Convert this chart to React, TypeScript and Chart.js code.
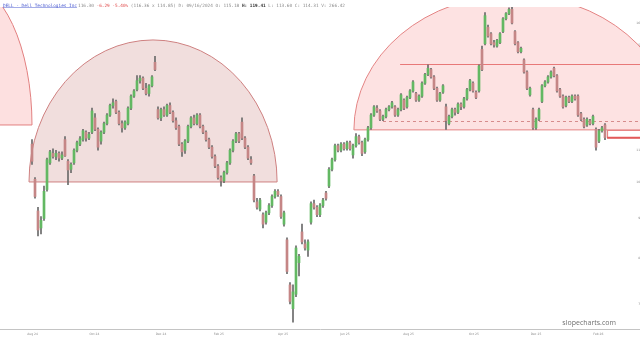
import React, { useEffect, useRef } from 'react';
import { Chart, registerables } from 'chart.js';

Chart.register(...registerables);

// ---- Data (daily-ish candles) ----
const opens = [
  112, 101, 92, 87.5, 90, 98, 106, 109, 108, 109, 107.5, 113.5,
  106.5, 104, 106, 110, 112, 113.5, 116, 114, 116, 121, 117, 113,
  116, 119, 122, 125.5, 127, 123, 119, 117.5, 119, 124.5, 129, 131.5,
  135, 136, 132, 130, 133, 142.5, 124, 121, 124, 122, 125.5, 123,
  120, 118, 112, 110, 113, 118, 121, 119, 122, 118, 116, 113.5,
  111, 108, 105, 101.5, 100.5, 103, 106, 110, 113, 115.5, 119.5, 114,
  111, 107, 102, 94.5, 92.5, 91, 89, 91.5, 93.5, 96, 97.5, 96,
  88.5, 84.5, 74, 69, 72, 79, 86.5, 83.5, 82, 89, 94, 93,
  91, 93.5, 97, 99, 104, 107, 111.5, 110, 112, 110.5, 112.5, 108.5,
  111.5, 114.5, 112.5, 109.5, 113.5, 117.5, 122, 124.5, 123.5, 120.5, 121.5, 124,
  125, 125, 122, 124, 127.5, 125, 128.5, 131, 130, 127.5, 129, 134,
  137.5, 139.5, 136.5, 132, 127.5, 130.5, 125, 119, 121.5, 124, 123, 126,
  125, 128, 131.5, 134, 130.5, 131, 148, 150.5, 158, 155, 151, 149.5,
  151, 156, 162, 164.5, 166.5, 156, 151, 147, 143.5, 138.5, 129.5, 124,
  117.5, 120.5, 127, 133, 134.5, 136.5, 140, 137, 131.5, 129, 125.5, 128.5,
  127, 129, 129, 122.5, 120.5, 118.5, 120, 119, 117, 113, 116.5, 118.5,
];
const highs = [
  113.5, 101.5, 93, 90.5, 99, 107.5, 110, 110.5, 110, 109.5, 109.5, 114.5,
  107, 106, 110.5, 113, 114.5, 117, 116.5, 116, 124.5, 122.5, 117.5, 116.5,
  119.5, 122.5, 126, 128, 127.5, 123.5, 120, 120, 125, 129.5, 131.5, 137,
  137, 136.5, 134, 133.5, 137, 145, 125, 124.5, 125, 126, 126.5, 123.5,
  121, 118.5, 112.5, 113.5, 118.5, 121.5, 122, 122.5, 122.5, 118.5, 116.5, 114,
  111.5, 108.5, 105.5, 102, 103.5, 106.5, 110.5, 113.5, 116, 116, 121, 114.5,
  111.5, 108, 102.5, 95.5, 95.5, 91.5, 92, 94, 96.5, 98, 98, 96.5,
  92, 85, 74.5, 74, 83, 81, 88.5, 84.5, 84.5, 94.5, 95, 93.5,
  94, 95.5, 97.5, 104.5, 107.5, 112, 112, 112.5, 112.5, 113, 113, 112,
  115.5, 115, 113, 114, 118, 122.5, 125.5, 125.5, 124, 122, 124.5, 125.5,
  127, 125.5, 124.5, 130, 128, 129, 131.5, 135, 130.5, 129.5, 134.5, 138,
  141.5, 140, 137, 132.5, 130.5, 133.5, 126, 122, 124.5, 124.5, 126.5, 126.5,
  128.5, 132, 135.5, 134.5, 131, 141.5, 149.5, 165, 159, 155.5, 152, 152.5,
  155.5, 162.5, 165, 167.3, 167.7, 156.5, 151.5, 149, 144, 139, 132.5, 124.5,
  121, 124.5, 133.5, 135, 137, 139, 140.5, 137.5, 132, 129.5, 129, 129,
  129.5, 129.5, 129.5, 123, 121, 121, 120.5, 122, 117.5, 117, 118, 119,
];
const lows = [
  105.5, 95.5, 85.5, 86, 89.5, 97.5, 105.5, 107.5, 107, 106.5, 107, 108,
  99.4, 103, 105.5, 109.5, 111.5, 113, 113, 113.5, 115.5, 116.5, 110, 112,
  115.5, 118.5, 121.5, 124.5, 122.5, 118.5, 116, 117, 118.5, 124, 128.5, 131,
  134, 131.5, 129.5, 129, 132.5, 139, 120.5, 120, 121.5, 121.5, 122.5, 119.5,
  117, 111.5, 108, 109, 112.5, 117.5, 118.5, 118.5, 117.5, 115.5, 113, 110.5,
  107.5, 104.5, 101, 99, 100, 102.5, 105.5, 109.5, 112.5, 112.5, 113.5, 110.5,
  107, 105.5, 94.5, 92.5, 92, 87.5, 88.5, 91, 93, 95.5, 96, 90,
  88, 76.5, 70, 66.3, 71.5, 76, 83.5, 82, 80.5, 88.5, 92.5, 90.5,
  90.5, 93, 95, 98.5, 103.5, 106.5, 109.5, 109.5, 110, 110, 110, 107.5,
  111, 112, 108.3, 109, 113, 117, 121.5, 123, 120, 120, 121, 123.5,
  124.5, 121.5, 121.5, 123.5, 124, 124.5, 128, 130.5, 127, 127, 128.5, 133.5,
  137, 136, 131.5, 127, 127, 130, 117, 118.5, 121, 122, 122.5, 124,
  124.5, 127.5, 131, 130.5, 128, 130.5, 139, 150, 153.5, 150, 149, 149,
  150.5, 155.5, 161.5, 164, 159.5, 150, 146.5, 146.5, 138, 131.5, 129, 117,
  117, 120, 126.5, 132.5, 134, 136, 136.5, 130.5, 128.5, 124.5, 125, 126.5,
  126.5, 127.5, 121.5, 120, 117.5, 118, 118.5, 118.5, 110, 112.5, 116, 113.5,
];
const closes = [
  106.5, 96, 87, 89.5, 97.5, 107, 109.5, 108, 109, 107.5, 108.5, 108.2,
  103.8, 105.5, 110, 112.5, 113.8, 116.5, 114, 115.3, 123.5, 117, 111, 116,
  119, 122, 125.5, 126.5, 123, 119, 117.5, 119.5, 124.5, 129, 131, 135,
  136, 132, 130, 133, 136.5, 139.5, 121, 124, 122, 125.5, 123, 120,
  117.5, 112, 109.5, 113, 118, 121, 119, 122, 118, 116, 113.5, 111,
  108, 105, 101.5, 100.5, 103, 106, 110, 113, 115.5, 113, 114, 111,
  107.5, 106, 95, 93, 95, 88.5, 91.5, 93.5, 96, 97.5, 96.5, 90.5,
  91.5, 77, 70.5, 72.5, 82.5, 80.5, 84, 82.5, 84, 94, 93, 91,
  93.5, 95, 95.5, 104, 107, 111.5, 110, 112, 110.5, 112.5, 110.5, 111.5,
  114.5, 112.5, 109, 113.5, 117.5, 122, 125, 123.5, 120.5, 121.5, 124, 125,
  126.5, 122, 124, 129.5, 124.5, 128.5, 131, 134.5, 127.5, 129, 134, 137.5,
  140, 136.5, 132, 127.5, 130, 133, 120, 121.5, 124, 123, 126, 125,
  128, 131.5, 135, 131, 128.5, 141, 139.5, 163.5, 154, 150.5, 150, 152,
  155, 162, 164.5, 166.5, 160, 150.5, 147, 148.5, 138.5, 132, 132, 117.5,
  120.5, 124, 133, 134.5, 136.5, 138.5, 137, 131, 129, 125, 128.5, 127,
  129, 128, 122, 120.5, 118, 120.5, 119, 121.5, 111, 116.5, 117.5, 114.2,
];

const xTickPositions = [0.2, 20.8, 43, 62.3, 83.7, 104.3, 125.5, 147.3, 168, 188.8];
const xTickLabels = ['Aug 24', 'Oct 24', 'Dec 24', 'Feb 25', 'Apr 25', 'Jun 25', 'Aug 25', 'Oct 25', 'Dec 25', 'Feb 26'];
const yTickValues = [70, 80, 90, 100, 110, 120, 130, 140, 150, 160];

// Drawing objects (in data units: candle index / price)
const arcStartIdx = [-44, -1, 107.3];
const arcEndIdx = [0, 81.7, 214];
const arcBasePrice = [118.5, 100.2, 116.8];
const arcApexPrice = [180, 152.2, 173.7];
const levelPrices = [141.8, 119.8];
const levelStartIdx = [122.7, 117];
const lastBoxPrices = [116.8, 114.3];
const lastBoxStartIdx = 191.7;

// ---- Styles ----
const ARC_FILLS = ['rgb(253,224,224)', 'rgb(241,222,221)', 'rgb(253,226,226)'];
const ARC_STROKES = ['rgb(226,128,128)', 'rgb(206,128,128)', 'rgb(228,132,132)'];
const UP = '#63b863';
const DOWN = '#c58686';
const WICK = '#6a6a6a';

const drawingsPlugin = {
  id: 'drawings',
  beforeDatasetsDraw(chart: any) {
    const { ctx, chartArea, scales } = chart;
    const xs = scales.x;
    const ys = scales.y;
    ctx.save();
    ctx.beginPath();
    ctx.rect(chartArea.left, chartArea.top, chartArea.right - chartArea.left, chartArea.bottom - chartArea.top);
    ctx.clip();
    for (let k = 0; k < arcStartIdx.length; k++) {
      const x0 = xs.getPixelForValue(arcStartIdx[k]);
      const x1 = xs.getPixelForValue(arcEndIdx[k]);
      const yb = ys.getPixelForValue(arcBasePrice[k]);
      const ya = ys.getPixelForValue(arcApexPrice[k]);
      ctx.beginPath();
      ctx.ellipse((x0 + x1) / 2, yb, (x1 - x0) / 2, yb - ya, 0, Math.PI, 2 * Math.PI);
      ctx.closePath();
      ctx.fillStyle = ARC_FILLS[k];
      ctx.fill();
      ctx.lineWidth = 1;
      ctx.strokeStyle = ARC_STROKES[k];
      ctx.stroke();
    }
    // level lines
    for (let k = 0; k < levelPrices.length; k++) {
      const y = Math.round(ys.getPixelForValue(levelPrices[k])) + 0.5;
      const x0 = xs.getPixelForValue(levelStartIdx[k]);
      ctx.beginPath();
      ctx.moveTo(x0, y);
      ctx.lineTo(chartArea.right, y);
      ctx.lineWidth = 1;
      if (k === 1) {
        ctx.setLineDash([3, 3]);
        ctx.strokeStyle = 'rgb(214,140,140)';
      } else {
        ctx.setLineDash([]);
        ctx.strokeStyle = 'rgb(232,120,120)';
      }
      ctx.stroke();
    }
    ctx.setLineDash([]);
    // last price box
    const bx = xs.getPixelForValue(lastBoxStartIdx);
    const bt = ys.getPixelForValue(lastBoxPrices[0]);
    const bb = ys.getPixelForValue(lastBoxPrices[1]);
    ctx.fillStyle = '#ffffff';
    ctx.fillRect(bx, bt, chartArea.right - bx, bb - bt);
    ctx.strokeStyle = 'rgb(228,120,120)';
    ctx.lineWidth = 1;
    ctx.strokeRect(bx + 0.5, bt + 0.5, chartArea.right - bx + 2, bb - bt);
    ctx.beginPath();
    ctx.moveTo(bx, bb + 0.5);
    ctx.lineTo(chartArea.right, bb + 0.5);
    ctx.lineWidth = 2;
    ctx.strokeStyle = 'rgb(226,90,90)';
    ctx.stroke();
    ctx.restore();
  },
  afterDraw(chart: any) {
    const { ctx } = chart;
    ctx.save();
    ctx.textBaseline = 'alphabetic';
    ctx.textAlign = 'left';
    // header
    const mono = '"DejaVu Sans Mono", monospace';
    ctx.font = `4.4px ${mono}`;
    const name = 'DELL - Dell Technologies Inc';
    ctx.fillStyle = '#4a5bd0';
    ctx.fillText(name, 3, 6.5);
    const nw = ctx.measureText(name).width;
    ctx.fillRect(3, 7.3, nw, 0.5);
    const segs: [string, string, boolean][] = [
      ['116.30 ', '#8a8a8a', false],
      ['-6.29 -5.40% ', '#e04848', false],
      ['(116.36 x 114.85) D: 09/16/2024 O: 115.18 ', '#8a8a8a', false],
      ['H: 119.41 ', '#333333', true],
      ['L: 113.60 C: 114.31 V: 266.42', '#8a8a8a', false],
    ];
    let x = 78;
    for (const [t, c, b] of segs) {
      ctx.font = `${b ? 'bold ' : ''}4.4px ${mono}`;
      ctx.fillStyle = c;
      ctx.fillText(t, x, 6.5);
      x += ctx.measureText(t).width;
    }
    // watermark
    ctx.font = '7px "Open Sans", sans-serif';
    ctx.fillStyle = '#6f6f6f';
    ctx.textAlign = 'right';
    ctx.fillText('slopecharts.com', 616, 325);
    ctx.restore();
  },
};

export default function App() {
  const ref = useRef<HTMLCanvasElement | null>(null);
  useEffect(() => {
    if (!ref.current) return;
    const idx = closes.map((_, i) => i);
    const colors = idx.map((i) => (closes[i] >= opens[i] ? UP : DOWN));
    const chart = new Chart(ref.current, {
      type: 'bar',
      data: {
        datasets: [
          {
            label: 'body',
            data: idx.map((i) => ({ x: i, y: [opens[i], closes[i]] })) as any,
            backgroundColor: colors,
            borderWidth: 0,
            barThickness: 2,
            grouped: false,
          } as any,
          {
            label: 'wick',
            data: idx.map((i) => ({ x: i, y: [lows[i], highs[i]] })) as any,
            backgroundColor: WICK,
            borderWidth: 0,
            barThickness: 1,
            grouped: false,
          } as any,
        ],
      },
      options: {
        animation: false,
        responsive: false,
        devicePixelRatio: 1,
        events: [],
        layout: { padding: { top: 7, left: 0, right: 0, bottom: 0 } },
        plugins: {
          legend: { display: false },
          tooltip: { enabled: false },
          title: { display: false },
        },
        scales: {
          x: {
            type: 'linear',
            min: -10.667,
            max: 202.667,
            offset: false,
            grid: { display: false, drawTicks: false },
            border: { display: true, color: '#c4c4c4', width: 1 },
            ticks: {
              font: { size: 3, family: '"DejaVu Sans", sans-serif' },
              color: '#8a8a8a',
              padding: 3.5,
              maxRotation: 0,
              autoSkip: false,
              callback: (_v: any, i: number) => xTickLabels[i],
            },
            afterBuildTicks: (s: any) => {
              s.ticks = xTickPositions.map((v) => ({ value: v }));
            },
            afterFit: (s: any) => {
              s.height = 11;
            },
          },
          y: {
            type: 'logarithmic',
            position: 'right',
            min: 65,
            max: 167.7,
            grid: { display: false, drawTicks: false },
            border: { display: false },
            ticks: {
              mirror: true,
              padding: 2,
              autoSkip: false,
              font: { size: 3, family: '"DejaVu Sans", sans-serif' },
              color: '#8a8a8a',
              callback: (v: any) => String(v),
            },
            afterBuildTicks: (s: any) => {
              s.ticks = yTickValues.map((v) => ({ value: v }));
            },
            afterFit: (s: any) => {
              s.width = 0;
            },
          },
        },
      } as any,
      plugins: [drawingsPlugin],
    });
    return () => chart.destroy();
  }, []);
  return (
    <div style={{ position: 'fixed', left: 0, top: 0, width: 640, height: 340, background: '#fff' }}>
      <canvas ref={ref} width={640} height={340} style={{ width: 640, height: 340, display: 'block' }} />
    </div>
  );
}
